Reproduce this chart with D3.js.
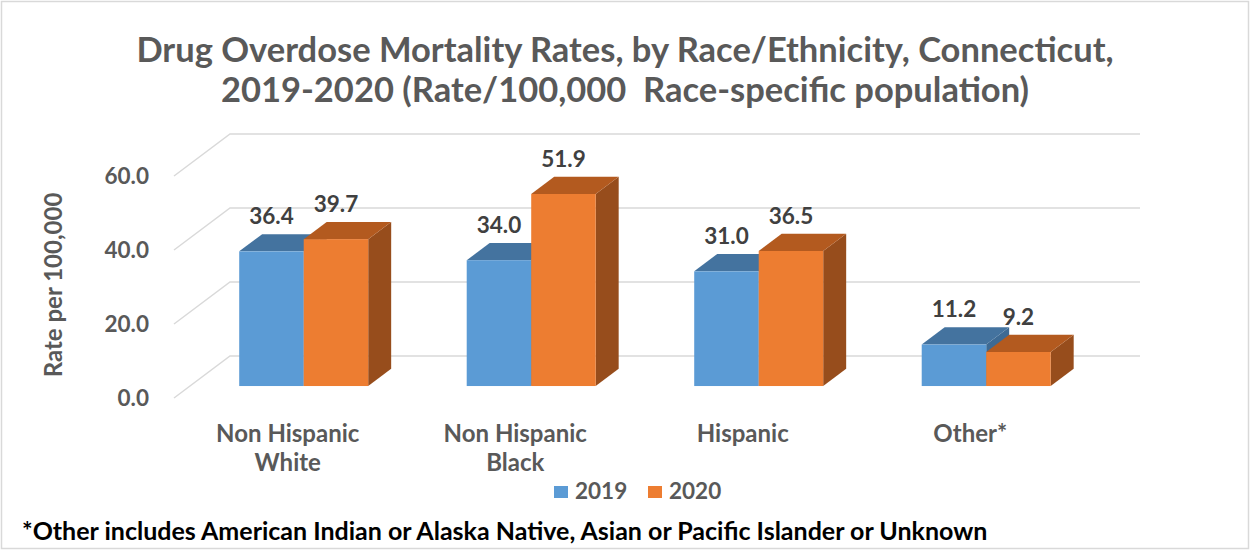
<!DOCTYPE html>
<html>
<head>
  <meta charset="utf-8">
  <title>Drug overdose mortality by race</title>
  <script src="https://cdnjs.cloudflare.com/ajax/libs/d3/7.8.5/d3.min.js"></script>
</head>
<style>
  body { margin: 0; background: #fff; }
  svg { display: block; }
  text { font-family: Lato, "Open Sans", sans-serif; font-weight: bold; }
</style>
<body>
<svg id="chart" width="1250" height="550"></svg>
<script>
const categories = [["Non Hispanic", "White"], ["Non Hispanic", "Black"], ["Hispanic"], ["Other*"]];
const years = ["2019", "2020"];
const rates2019 = [36.4, 34.0, 31.0, 11.2];
const rates2020 = [39.7, 51.9, 36.5, 9.2];
const yTicks = [0, 20, 40, 60];

const colors = {
  "2019": { front: "#5b9bd5", top: "#44739f", side: "#3d6a94" },
  "2020": { front: "#ed7d31", top: "#b35a1f", side: "#974d1c" }
};

const svg = d3.select("#chart");
const W = 1250, H = 550;

// frame
svg.append("rect")
  .attr("x", 1.5).attr("y", 1.5).attr("width", W - 3).attr("height", H - 3)
  .attr("fill", "#fff").attr("stroke", "#d9d9d9").attr("stroke-width", 1.5);

// 3d box: front plane left edge and depth vector
const frontLeft = 174, depthX = 56, depthY = -42;
const plotW = 910;
const y = d3.scaleLinear().domain([0, 60]).range([398, 176]);
const x = d3.scaleBand().domain(d3.range(categories.length)).range([frontLeft, frontLeft + plotW]);
const groupW = 129;
const xs = d3.scaleBand().domain(years).range([0, groupW]);
// bars sit between these fractions of the depth
const f0 = 0.285, f1 = 0.695;

// title
const title = svg.append("text")
  .attr("text-anchor", "middle")
  .attr("fill", "#595959").style("font-size", "34.5px");
title.append("tspan").attr("x", 625).attr("y", 62).text("Drug Overdose Mortality Rates, by Race/Ethnicity, Connecticut,");
title.append("tspan").attr("x", 625).attr("y", 102).text("2019-2020 (Rate/100,000  Race-specific population)")
  .style("white-space", "pre");

// gridlines: diagonal on the side + horizontal on the back wall
const grid = svg.append("g").attr("stroke", "#d9d9d9").attr("stroke-width", 1.5).attr("fill", "none");
yTicks.forEach(t => {
  grid.append("path")
    .attr("d", `M${frontLeft},${y(t)}L${frontLeft + depthX},${y(t) + depthY}L${frontLeft + depthX + plotW},${y(t) + depthY}`);
});

// y tick labels
svg.append("g").selectAll("text")
  .data(yTicks)
  .join("text")
  .attr("x", 149).attr("y", d => y(d))
  .attr("dy", "0.36em")
  .attr("text-anchor", "end")
  .attr("fill", "#595959").style("font-size", "22.5px")
  .text(d => d.toFixed(1));

svg.append("text")
  .attr("transform", "translate(62,285) rotate(-90)")
  .attr("text-anchor", "middle")
  .attr("fill", "#595959").style("font-size", "24px")
  .text("Rate per 100,000");

// bars
const bars = [];
categories.forEach((c, i) => {
  bars.push({ i, year: "2019", value: rates2019[i] });
  bars.push({ i, year: "2020", value: rates2020[i] });
});

const barG = svg.append("g");
bars.forEach(b => {
  const x0 = x(b.i) + (x.bandwidth() - groupW) / 2 + xs(b.year) + depthX * f0;
  const x1 = x0 + xs.bandwidth();
  const yb = y(0) + depthY * f0;
  const yt = y(b.value) + depthY * f0;
  const dx = depthX * (f1 - f0), dy = depthY * (f1 - f0);
  const col = colors[b.year];
  b.cx = (x0 + x1) / 2;
  b.labelY = yt + dy - 10;
  barG.append("path")
    .attr("d", `M${x1},${yt}L${x1 + dx},${yt + dy}L${x1 + dx},${yb + dy}L${x1},${yb}Z`)
    .attr("fill", col.side);
  barG.append("path")
    .attr("d", `M${x0},${yt}L${x0 + dx},${yt + dy}L${x1 + dx},${yt + dy}L${x1},${yt}Z`)
    .attr("fill", col.top);
  barG.append("rect")
    .attr("x", x0).attr("y", yt).attr("width", x1 - x0).attr("height", yb - yt)
    .attr("fill", col.front);
});

// value labels
svg.append("g").selectAll("text")
  .data(bars)
  .join("text")
  .attr("x", d => d.cx).attr("y", d => d.labelY)
  .attr("text-anchor", "middle")
  .attr("fill", "#404040").style("font-size", "22.5px")
  .text(d => d.value.toFixed(1));

// category labels
const catG = svg.append("g");
categories.forEach((lines, i) => {
  const t = catG.append("text")
    .attr("text-anchor", "middle")
    .attr("fill", "#595959").style("font-size", "24px");
  lines.forEach((l, k) => {
    t.append("tspan").attr("x", x(i) + x.bandwidth() / 2).attr("y", 442 + k * 29).text(l);
  });
});

// legend
const legend = svg.append("g");
const legendX = [554, 648];
years.forEach((yr, k) => {
  legend.append("rect")
    .attr("x", legendX[k]).attr("y", 486).attr("width", 14).attr("height", 12)
    .attr("fill", colors[yr].front);
  legend.append("text")
    .attr("x", legendX[k] + 21).attr("y", 499)
    .attr("fill", "#595959").style("font-size", "22.5px")
    .text(yr);
});

// footnote
svg.append("text")
  .attr("x", 22).attr("y", 540)
  .attr("fill", "#000").style("font-size", "25px")
  .text("*Other includes American Indian or Alaska Native, Asian or Pacific Islander or Unknown");
</script>
</body>
</html>
